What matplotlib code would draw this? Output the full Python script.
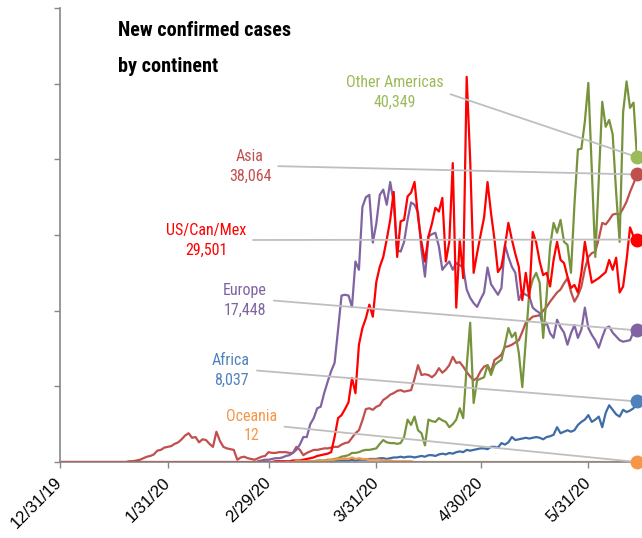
import pandas as pd
import matplotlib
matplotlib.use("Agg")
import matplotlib.pyplot as plt
from matplotlib import font_manager

# Daily new confirmed cases (thousands)
# each series starts on its own date, one value per day

asia_start = "2019-12-31"
asia = [
    0.0, 0.0, 0.0, 0.0, 0.0, 0.0, 0.0, 0.0, 0.0, 0.0,
    0.0, 0.0, 0.0, 0.0, 0.0, 0.0, 0.0, 0.0, 0.0, 0.0,
    0.1, 0.1, 0.2, 0.3, 0.5, 0.7, 0.8, 1.0, 1.5, 1.6,
    1.9, 2.0, 2.1, 2.4, 2.6, 3.0, 3.5, 3.8, 3.2, 3.3,
    2.6, 3.0, 2.9, 2.4, 2.0, 4.0, 2.8, 2.0, 1.8, 1.7,
    1.6, 0.3, 0.6, 0.7, 0.5, 0.4, 0.3, 0.5, 0.7, 0.8,
    1.3, 1.2, 1.2, 1.3, 1.3, 1.3, 1.2, 1.2, 2.0, 1.6,
    0.9, 1.2, 1.4, 1.6, 1.6, 1.7, 1.8, 1.8, 1.9, 2.0,
    2.0, 2.3, 2.5, 2.6, 3.2, 3.8, 4.2, 5.5, 7.0, 7.1,
    6.9, 7.3, 7.5, 8.2, 8.5, 8.9, 9.1, 9.4, 9.5, 9.3,
    9.4, 9.5, 11.0, 12.8, 11.5, 11.6, 11.5, 11.2, 11.6, 12.4,
    11.8, 12.2, 12.8, 13.9, 13.1, 13.2, 12.6, 11.9, 11.3, 10.8,
    11.1, 12.0, 12.6, 12.8, 11.9, 13.5, 13.8, 14.2, 15.2, 15.3,
    15.5, 15.8, 16.1, 17.2, 18.4, 18.8, 19.2, 19.3, 19.4, 20.0,
    20.5, 21.2, 21.8, 22.4, 22.8, 23.6, 24.3, 22.5, 21.2, 22.0,
    23.2, 25.5, 27.1, 27.6, 27.8, 29.5, 31.6, 31.4, 32.0, 32.7,
    32.8, 32.7, 33.5, 34.4, 35.7, 36.8, 38.0,
]

us_start = "2019-12-31"
us = [
    0.0, 0.0, 0.0, 0.0, 0.0, 0.0, 0.0, 0.0, 0.0, 0.0,
    0.0, 0.0, 0.0, 0.0, 0.0, 0.0, 0.0, 0.0, 0.0, 0.0,
    0.0, 0.0, 0.0, 0.0, 0.0, 0.0, 0.0, 0.0, 0.0, 0.0,
    0.0, 0.0, 0.0, 0.0, 0.0, 0.0, 0.0, 0.0, 0.0, 0.0,
    0.0, 0.0, 0.0, 0.0, 0.0, 0.0, 0.0, 0.0, 0.0, 0.0,
    0.0, 0.0, 0.0, 0.0, 0.0, 0.0, 0.0, 0.0, 0.0, 0.0,
    0.0, 0.0, 0.1, 0.1, 0.1, 0.1, 0.1, 0.2, 0.2, 0.2,
    0.3, 0.4, 0.5, 0.6, 0.8, 0.9, 1.0, 1.1, 1.3, 3.3,
    5.8, 6.2, 7.0, 7.9, 11.1, 9.1, 15.5, 17.7, 19.0, 20.8,
    19.2, 23.8, 25.8, 27.1, 29.4, 32.0, 35.7, 27.1, 31.8, 32.0,
    35.1, 35.6, 37.0, 32.4, 29.0, 26.5, 29.8, 31.5, 33.6, 33.1,
    34.9, 26.5, 29.1, 39.5, 20.4, 29.4, 24.3, 50.9, 40.0, 25.0,
    27.6, 30.0, 32.3, 37.0, 32.9, 29.4, 25.1, 25.8, 28.5, 31.6,
    29.4, 27.5, 25.8, 21.4, 25.0, 21.7, 30.4, 29.0, 26.5, 24.7,
    25.0, 23.2, 26.7, 29.1, 26.7, 26.3, 24.5, 23.0, 23.4, 22.4,
    25.0, 29.1, 26.3, 23.7, 24.0, 24.3, 24.7, 25.1, 26.7, 25.4,
    27.0, 22.4, 23.2, 26.7, 31.0, 29.8, 29.4,
]

europe_start = "2020-02-26"
europe = [
    0.1, 0.2, 0.3,
    0.3, 0.4, 0.5, 0.5, 0.6, 0.8, 0.9, 1.2, 1.6, 2.3,
    3.3, 3.3, 5.0, 5.8, 7.1, 7.3, 9.1, 10.6, 12.0, 13.1,
    17.5, 22.0, 22.1, 22.0, 20.5, 26.5, 25.4, 33.7, 35.0, 35.3,
    29.0, 31.5, 35.3, 36.0, 34.0, 37.0, 34.3, 28.0, 27.8, 29.1,
    32.0, 34.3, 34.0, 33.0, 28.0, 24.5, 29.8, 30.1, 30.3, 28.5,
    25.4, 26.0, 26.5, 25.4, 26.3, 26.0, 25.7, 22.8, 21.7, 21.0,
    20.5, 21.5, 22.4, 25.7, 23.5, 22.8, 22.1, 23.0, 28.7, 27.1,
    25.8, 25.0, 21.4, 22.4, 22.1, 21.9, 20.4, 20.0, 19.7, 17.9,
    18.4, 17.0, 16.4, 18.8, 17.8, 17.1, 15.5, 17.0, 18.1, 16.4,
    17.5, 20.4, 17.7, 16.8, 16.1, 15.1, 16.5, 17.7, 17.9, 17.1,
    16.6, 16.1, 15.9, 16.0, 16.1, 17.2, 17.4,
]

americas_start = "2020-03-10"
americas = [
    0.1, 0.1, 0.1, 0.1, 0.2, 0.2, 0.2, 0.3, 0.3, 0.4,
    0.5, 0.7, 0.8, 0.9, 1.2, 1.2, 1.3, 1.5, 1.6, 1.6,
    1.7, 1.8, 2.4, 2.9, 2.6, 2.5, 2.5, 2.4, 2.5, 3.3,
    5.6, 4.9, 6.0, 4.2, 3.8, 2.2, 5.6, 5.4, 5.3, 5.8,
    5.5, 5.3, 4.6, 5.0, 5.6, 7.1, 5.8, 12.6, 18.4, 7.8,
    10.8, 11.0, 11.2, 12.8, 11.5, 12.8, 13.2, 13.5, 15.5, 17.7,
    16.5, 17.1, 14.4, 9.9, 16.0, 22.4, 24.1, 25.0, 23.7, 16.4,
    22.0, 28.5, 31.6, 30.3, 32.0, 29.1, 28.7, 25.0, 34.0, 41.3,
    41.4, 45.0, 50.1, 38.6, 27.1, 37.3, 47.6, 44.3, 45.2, 43.3,
    35.6, 29.1, 46.2, 50.3, 46.8, 47.5, 40.3,
]

africa_start = "2020-03-15"
africa = [
    0.1, 0.1, 0.1, 0.1, 0.1,
    0.2, 0.2, 0.2, 0.2, 0.3, 0.2, 0.3, 0.3, 0.3, 0.4,
    0.4, 0.4, 0.5, 0.5, 0.4, 0.5, 0.6, 0.6, 0.7, 0.6,
    0.7, 0.7, 0.6, 0.7, 0.8, 0.7, 0.9, 0.9, 0.8, 1.0,
    1.1, 1.0, 1.2, 1.1, 1.3, 1.4, 1.3, 1.6, 1.5, 1.6,
    1.7, 1.8, 1.8, 1.7, 2.0, 2.0, 1.9, 2.5, 2.3, 2.6,
    3.3, 2.9, 3.0, 3.1, 3.2, 3.1, 3.2, 3.3, 3.2, 3.0,
    3.3, 3.4, 3.6, 4.6, 3.8, 4.0, 4.2, 4.0, 4.2, 4.9,
    5.3, 5.6, 6.2, 5.3, 5.6, 6.0, 4.6, 6.5, 7.5, 6.9,
    6.3, 6.0, 6.9, 6.6, 6.8, 7.1, 8.0,
]

oceania_start = "2020-03-05"
oceania = [
    0.0, 0.0, 0.0, 0.1, 0.1,
    0.1, 0.1, 0.1, 0.1, 0.1, 0.1, 0.2, 0.2, 0.3, 0.3,
    0.4, 0.4, 0.5, 0.4, 0.6, 0.4, 0.5, 0.4, 0.4, 0.3,
    0.3, 0.3, 0.3, 0.2, 0.2, 0.2, 0.1, 0.1, 0.1, 0.1,
    0.1, 0.1, 0.0, 0.0, 0.0, 0.0, 0.0, 0.0, 0.0, 0.0,
    0.0, 0.0, 0.0, 0.0, 0.0, 0.0, 0.0, 0.0, 0.0, 0.0,
    0.0, 0.0, 0.0, 0.0, 0.0, 0.0, 0.0, 0.0, 0.0, 0.0,
    0.0, 0.0, 0.0, 0.0, 0.0, 0.0, 0.0, 0.0, 0.0, 0.0,
    0.0, 0.0, 0.0, 0.0, 0.0, 0.0, 0.0, 0.0, 0.0, 0.0,
    0.0, 0.0, 0.0, 0.0, 0.0, 0.0, 0.0, 0.0, 0.0, 0.0,
    0.0, 0.0, 0.0, 0.0, 0.0, 0.0, 0.0,
]

names = ["Asia", "Europe", "Africa", "Other Americas", "US/Can/Mex", "Oceania"]
latest = ["38,064", "17,448", "8,037", "40,349", "29,501", "12"]
series = [(asia_start, asia), (europe_start, europe), (africa_start, africa),
          (americas_start, americas), (us_start, us), (oceania_start, oceania)]
line_colors = ["#C0504D", "#8064A2", "#3F6CA6", "#77933C", "#FF0000", "#F79646"]
text_colors = ["#C0504D", "#8064A2", "#4F81BD", "#9BBB59", "#FF0000", "#F79646"]
# label centres in figure pixels (from top-left)
label_pos = [(250, 166), (245, 300), (231, 370), (395, 92), (206, 240), (252, 426)]

tick_dates = ["2019-12-31", "2020-01-31", "2020-02-29", "2020-03-31", "2020-04-30", "2020-05-31"]
tick_labels = ["12/31/19", "1/31/20", "2/29/20", "3/31/20", "4/30/20", "5/31/20"]

# look for a condensed face, the original uses a narrow font
fonts = font_manager.fontManager.ttflist
installed = {f.name for f in fonts}
narrow = None
for cand in ["Liberation Sans Narrow", "Roboto Condensed", "DejaVu Sans Condensed",
             "Open Sans Condensed", "Noto Sans Condensed"]:
    if cand in installed:
        narrow = cand
        break
if narrow is None:
    condensed = sorted({f.name for f in fonts if "condensed" in str(f.stretch)})
    narrow = condensed[0] if condensed else None
if narrow is None:
    base, scale = "Liberation Sans", 0.87
else:
    base, scale = narrow, 1.0
fam = [base, "DejaVu Sans"]
tick_fam = ["Liberation Sans", "DejaVu Sans"]

W, H = 642, 538
fig = plt.figure(figsize=(W / 100, H / 100), dpi=100)
ax = fig.add_axes([60 / W, 76 / H, 577 / W, 454 / H])

for (start, vals), lc, tc in zip(series, line_colors, text_colors):
    x = pd.date_range(start, periods=len(vals), freq="D")
    ax.plot(x, vals, color=lc, lw=1.6)
    ax.plot(x[-1], vals[-1], "o", ms=9, color=tc, clip_on=False, zorder=6)

for (start, vals), name, num, tc, (px, py) in zip(series, names, latest, text_colors, label_pos):
    x = pd.date_range(start, periods=len(vals), freq="D")
    ax.annotate(f"{name}\n{num}", xy=(x[-1], vals[-1]), xycoords="data",
                xytext=(px, H - py), textcoords="figure pixels",
                ha="center", va="center", color=tc, fontsize=11.5 * scale,
                family=fam, linespacing=1.4 / scale,
                arrowprops=dict(arrowstyle="-", color="#BFBFBF", lw=1.3,
                                shrinkA=3, shrinkB=0, relpos=(1, 0.5)),
                zorder=4)

ax.set_xlim(pd.Timestamp("2019-12-31"), pd.Timestamp("2020-06-14"))
ax.set_ylim(0, 60)
ax.set_yticks([0, 10, 20, 30, 40, 50, 60])
ax.set_yticklabels([])
ax.set_xticks(pd.to_datetime(tick_dates))
ax.set_xticklabels(tick_labels, rotation=45, ha="right", va="center",
                   rotation_mode="anchor", fontsize=12, family=tick_fam)
ax.tick_params(axis="both", direction="out", length=4, width=1, color="#868686")
ax.tick_params(axis="x", pad=9)
for side in ["top", "right"]:
    ax.spines[side].set_visible(False)
for side in ["left", "bottom"]:
    ax.spines[side].set_color("#868686")
    ax.spines[side].set_linewidth(1.2)

fig.text(118 / W, 1 - 30 / H, "New confirmed cases", fontsize=14.5 * scale, fontweight="bold",
         family=fam, va="center", ha="left")
fig.text(118 / W, 1 - 67 / H, "by continent", fontsize=14.5 * scale, fontweight="bold",
         family=fam, va="center", ha="left")

fig.savefig("out.png", dpi=100)
